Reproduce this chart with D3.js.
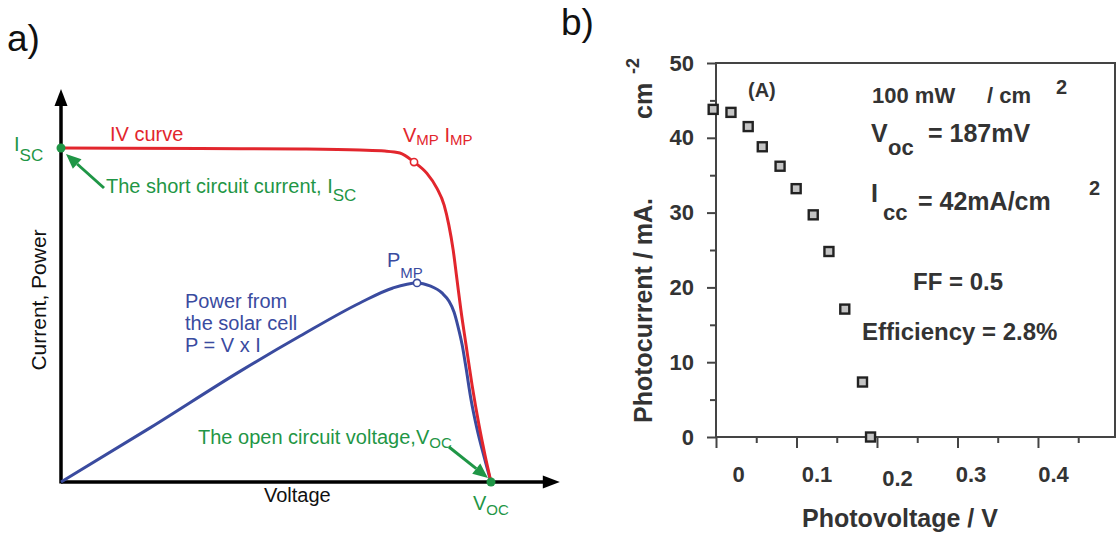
<!DOCTYPE html>
<html><head><meta charset="utf-8">
<script src="https://cdn.jsdelivr.net/npm/d3@7"></script>
<style>
html,body{margin:0;padding:0;background:#fff;}
svg{display:block;}
</style></head>
<body>
<svg id="chart" width="1117" height="533"></svg>
<script>
// ---------- Panel a: schematic IV curve and power curve (normalised: Voc = 1, Isc = 1)
const ivVoltage = [0, 0.323, 0.556, 0.695, 0.753, 0.788, 0.821, 0.851, 0.874, 0.891, 0.902, 0.912, 0.921, 0.930, 0.942, 0.956, 0.972, 0.986, 1.0];
const ivCurrent = [1.0, 0.9985, 0.997, 0.994, 0.991, 0.985, 0.958, 0.924, 0.880, 0.829, 0.769, 0.695, 0.605, 0.515, 0.410, 0.290, 0.171, 0.081, 0];
const powerVoltage = [0, 0.207, 0.421, 0.556, 0.695, 0.772, 0.828, 0.858, 0.886, 0.902, 0.914, 0.923, 0.933, 0.942, 0.953, 0.967, 0.984, 1.0];
const powerValue = [0, 0.162, 0.335, 0.437, 0.536, 0.581, 0.596, 0.587, 0.566, 0.542, 0.509, 0.467, 0.410, 0.341, 0.251, 0.162, 0.075, 0];
const vmpImp = [0.821, 0.958];
const pmp = [0.828, 0.596];
const iscPoint = [0, 1];
const vocPoint = [1, 0];

// ---------- Panel b: measured photocurrent vs photovoltage
const photovoltage = [-0.0035, 0.0186, 0.040, 0.0575, 0.0796, 0.0996, 0.1208, 0.1403, 0.160, 0.182, 0.192];
const photocurrent = [43.8, 43.4, 41.5, 38.8, 36.2, 33.2, 29.7, 24.8, 17.1, 7.35, 0];
const yTicksMajor = [0, 10, 20, 30, 40, 50];
const yTicksMinor = [5, 15, 25, 35, 45];
const xTicksMajor = [0, 0.1, 0.2, 0.3, 0.4];
const xTicksMinor = [0.05, 0.15, 0.25, 0.35, 0.45];
const xTickLabels = ["0", "0.1", "0.2", "0.3", "0.4"];

const RED = "#e2262d", BLUE = "#3a4b9f", GREEN = "#1f9646";
const FONT = "'Liberation Sans', Arial, Helvetica, sans-serif";
const svg = d3.select("#chart").attr("font-family", FONT);

function rich(parent, x, y, parts, fill, size, anchor) {
  const t = parent.append("text").attr("x", x).attr("y", y)
    .attr("fill", fill).attr("font-size", size);
  if (anchor) t.attr("text-anchor", anchor);
  let cur = 0;
  parts.forEach(p => {
    const ts = t.append("tspan").text(p.t);
    if (p.size) ts.attr("font-size", p.size);
    const want = p.dy || 0;
    if (want !== cur) { ts.attr("dy", want - cur); cur = want; }
    if (p.dx) ts.attr("dx", p.dx);
  });
  return t;
}

// =============== PANEL A ===============
const gA = svg.append("g");
const xL = d3.scaleLinear().domain([0, 1]).range([61, 491]);
const yL = d3.scaleLinear().domain([0, 1]).range([482, 148]);

gA.append("text").attr("x", 7).attr("y", 51).attr("font-size", 37).attr("fill", "#111").text("a)");

// axes with arrow heads
const xEnd = xL(1.16), yEnd = yL(1.177);
gA.append("line").attr("x1", xL(0)).attr("x2", xEnd - 12).attr("y1", yL(0)).attr("y2", yL(0))
  .attr("stroke", "#000").attr("stroke-width", 3.5);
gA.append("line").attr("x1", xL(0)).attr("x2", xL(0)).attr("y1", yL(0) + 1.5).attr("y2", yEnd + 12)
  .attr("stroke", "#000").attr("stroke-width", 3.5);
gA.append("path").attr("d", `M${xEnd},${yL(0)} L${xEnd - 17},${yL(0) - 6.5} L${xEnd - 17},${yL(0) + 6.5} Z`).attr("fill", "#000");
gA.append("path").attr("d", `M${xL(0)},${yEnd} L${xL(0) - 6.5},${yEnd + 17} L${xL(0) + 6.5},${yEnd + 17} Z`).attr("fill", "#000");

// curves
const lineGen = d3.line().x(d => xL(d[0])).y(d => yL(d[1])).curve(d3.curveMonotoneX);
gA.append("path").datum(powerVoltage.map((v, i) => [v, powerValue[i]]))
  .attr("d", lineGen).attr("fill", "none").attr("stroke", BLUE).attr("stroke-width", 3);
gA.append("path").datum(ivVoltage.map((v, i) => [v, ivCurrent[i]]))
  .attr("d", lineGen).attr("fill", "none").attr("stroke", RED).attr("stroke-width", 3);

// max power markers
gA.append("circle").attr("cx", xL(vmpImp[0])).attr("cy", yL(vmpImp[1])).attr("r", 3.6)
  .attr("fill", "#fff").attr("stroke", RED).attr("stroke-width", 1.6);
gA.append("circle").attr("cx", xL(pmp[0])).attr("cy", yL(pmp[1])).attr("r", 3.6)
  .attr("fill", "#fff").attr("stroke", BLUE).attr("stroke-width", 1.6);

// green points
[iscPoint, vocPoint].forEach(p => {
  gA.append("circle").attr("cx", xL(p[0])).attr("cy", yL(p[1])).attr("r", 4.5).attr("fill", GREEN);
});

// green arrows
function arrow(x1, y1, x2, y2) {
  const ang = Math.atan2(y2 - y1, x2 - x1), L = 15, W = 6.5;
  const bx = x2 - L * Math.cos(ang), by = y2 - L * Math.sin(ang);
  gA.append("line").attr("x1", x1).attr("y1", y1).attr("x2", bx).attr("y2", by)
    .attr("stroke", GREEN).attr("stroke-width", 3);
  const px = -Math.sin(ang) * W, py = Math.cos(ang) * W;
  gA.append("path").attr("d", `M${x2},${y2} L${bx + px},${by + py} L${bx - px},${by - py} Z`).attr("fill", GREEN);
}
arrow(xL(0) + 43, yL(1) + 40, xL(0) + 5, yL(1) + 6);
arrow(xL(1) - 42, yL(0) - 35, xL(1) - 3, yL(0) - 4);

// texts
rich(gA, 14, 151, [{t: "I"}, {t: "SC", size: 17, dy: 10}], GREEN, 20);
rich(gA, 110, 141, [{t: "IV curve"}], RED, 20);
rich(gA, 106, 193, [{t: "The short circuit current, I"}, {t: "SC", size: 17, dy: 8}], GREEN, 20);
rich(gA, 403, 142, [{t: "V"}, {t: "MP", size: 15, dy: 3}, {t: " I", dy: 0}, {t: "MP", size: 15, dy: 3}], RED, 20);
rich(gA, 387, 267, [{t: "P"}, {t: "MP", size: 15, dy: 11}], BLUE, 20);
rich(gA, 185, 308, [{t: "Power from"}], BLUE, 20);
rich(gA, 185, 330, [{t: "the solar cell"}], BLUE, 20);
rich(gA, 185, 352, [{t: "P = V x I"}], BLUE, 20);
rich(gA, 198, 444, [{t: "The open circuit voltage,V"}, {t: "OC", size: 15, dy: 4}], GREEN, 20);
rich(gA, 473, 510, [{t: "V"}, {t: "OC", size: 15, dy: 5}], GREEN, 20);
rich(gA, 264, 502, [{t: "Voltage"}], "#111", 20);
gA.append("text").attr("transform", "translate(46,300) rotate(-90)").attr("text-anchor", "middle")
  .attr("font-size", 21).attr("fill", "#111").text("Current, Power");

// =============== PANEL B ===============
const gB = svg.append("g");
const INK = "#333";
gB.append("text").attr("x", 561).attr("y", 35).attr("font-size", 37).attr("fill", "#111").text("b)");

const xR = d3.scaleLinear().domain([0, 0.4957]).range([716, 1115]);
const yR = d3.scaleLinear().domain([0, 50]).range([437, 63]);

// frame
gB.append("rect").attr("x", xR(0)).attr("y", yR(50)).attr("width", xR(0.4957) - xR(0)).attr("height", yR(0) - yR(50))
  .attr("fill", "none").attr("stroke", "#444").attr("stroke-width", 2);

// y axis
const yAx = gB.append("g").attr("transform", `translate(${xR(0)},0)`)
  .call(d3.axisLeft(yR).tickValues(yTicksMajor).tickSize(9).tickPadding(13).tickFormat(d3.format("d")));
const yAxMin = gB.append("g").attr("transform", `translate(${xR(0)},0)`)
  .call(d3.axisLeft(yR).tickValues(yTicksMinor).tickSize(6).tickFormat(""));
// x axis
const xAx = gB.append("g").attr("transform", `translate(0,${yR(0)})`)
  .call(d3.axisBottom(xR).tickValues(xTicksMajor).tickSize(11).tickPadding(18).tickFormat((d, i) => xTickLabels[i]));
const xAxMin = gB.append("g").attr("transform", `translate(0,${yR(0)})`)
  .call(d3.axisBottom(xR).tickValues(xTicksMinor).tickSize(6).tickFormat(""));
[yAx, yAxMin, xAx, xAxMin].forEach(g => {
  g.select(".domain").remove();
  g.selectAll("line").attr("stroke", "#444").attr("stroke-width", 2);
  g.selectAll("text").attr("font-family", FONT).attr("font-weight", "bold").attr("font-size", 22).attr("fill", INK);
});
// printed tick labels sit slightly to the right of their ticks in the original figure
const labelShift = [22, 20, 20, 13, 15];
const labelDrop = [0, 0, 4, 0, 0];
xAx.selectAll(".tick text").attr("dx", (d, i) => labelShift[i]).attr("y", (d, i) => 29 + labelDrop[i]);

// data markers
gB.selectAll("rect.pt").data(photovoltage.map((v, i) => [v, photocurrent[i]])).enter()
  .append("rect").attr("class", "pt")
  .attr("x", d => xR(d[0]) - 4.5).attr("y", d => yR(d[1]) - 4.5)
  .attr("width", 9).attr("height", 9)
  .attr("fill", "#c4c4c4").attr("stroke", "#222").attr("stroke-width", 2.4);

// axis titles
gB.append("text").attr("transform", "translate(652,423) rotate(-90)")
  .attr("font-size", 25).attr("font-weight", "bold").attr("fill", INK).text("Photocurrent / mA.");
gB.append("text").attr("transform", "translate(652,119) rotate(-90)")
  .attr("font-size", 25).attr("font-weight", "bold").attr("fill", INK).text("cm");
gB.append("text").attr("transform", "translate(639,74) rotate(-90)")
  .attr("font-size", 18).attr("font-weight", "bold").attr("fill", INK).text("-2");
gB.append("text").attr("x", 900).attr("y", 527).attr("text-anchor", "middle")
  .attr("font-size", 25).attr("font-weight", "bold").attr("fill", INK).text("Photovoltage / V");

// annotations
const ann = gB.append("g").attr("font-weight", "bold").attr("fill", INK);
ann.append("text").attr("x", 748).attr("y", 97).attr("font-size", 20).text("(A)");
ann.append("text").attr("x", 872).attr("y", 103).attr("font-size", 22).text("100 mW");
ann.append("text").attr("x", 987).attr("y", 103).attr("font-size", 22).text("/ cm");
ann.append("text").attr("x", 1056).attr("y", 94).attr("font-size", 20).text("2");
ann.append("text").attr("x", 871).attr("y", 142).attr("font-size", 25).text("V");
ann.append("text").attr("x", 888).attr("y", 155).attr("font-size", 22).text("oc");
ann.append("text").attr("x", 928).attr("y", 142).attr("font-size", 25).text("= 187mV");
ann.append("text").attr("x", 871).attr("y", 202).attr("font-size", 25).text("I");
ann.append("text").attr("x", 883).attr("y", 220).attr("font-size", 22).text("cc");
ann.append("text").attr("x", 918).attr("y", 210).attr("font-size", 25).text("= 42mA/cm");
ann.append("text").attr("x", 1089).attr("y", 195).attr("font-size", 20).text("2");
ann.append("text").attr("x", 913).attr("y", 290).attr("font-size", 24).text("FF = 0.5");
ann.append("text").attr("x", 862).attr("y", 340).attr("font-size", 24).text("Efficiency = 2.8%");
</script>
</body></html>
